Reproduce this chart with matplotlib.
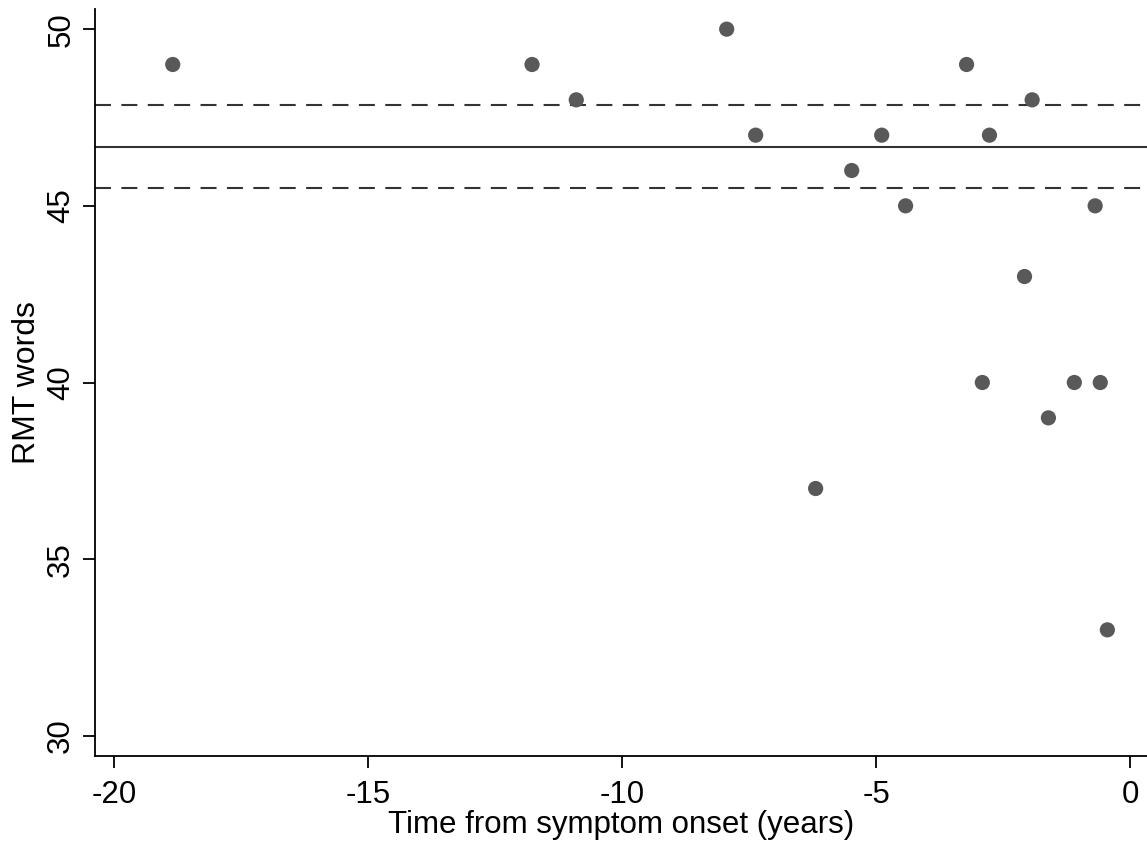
import numpy as np
import matplotlib
matplotlib.use("Agg")
import matplotlib.pyplot as plt

plt.rcParams['font.family'] = ['Liberation Sans', 'DejaVu Sans']
plt.rcParams['lines.scale_dashes'] = False
plt.rcParams['axes.unicode_minus'] = False

# Time from symptom onset (years) and RMT words score per participant
time_years = [-18.84, -11.77, -10.90, -7.94, -7.37, -6.19, -5.48, -4.89, -4.42,
              -3.22, -2.91, -2.77, -2.08, -1.93, -1.61, -1.10, -0.69, -0.59, -0.45]
rmt_words = [49, 49, 48, 50, 47, 37, 46, 47, 45,
             49, 40, 47, 43, 48, 39, 40, 45, 40, 33]

# Reference mean and its limits (horizontal lines)
mean_value = 46.67
upper_limit = 47.86
lower_limit = 45.51

x_ticks = [-20, -15, -10, -5, 0]
y_ticks = [30, 35, 40, 45, 50]

fig = plt.figure(figsize=(11.47, 8.43), dpi=100)
ax = fig.add_axes([0.0828, 0.1032, 0.9172, 0.8861])

line_color = '#333333'
ax.axhline(mean_value, color=line_color, lw=1.5, zorder=1)
ax.axhline(upper_limit, color=line_color, lw=1.5, dashes=(11.5, 7.5), zorder=1)
ax.axhline(lower_limit, color=line_color, lw=1.5, dashes=(11.5, 7.5), zorder=1)

ax.scatter(time_years, rmt_words, s=120, color='#595959', edgecolors='none', zorder=3)

ax.set_xlim(-20.37, 0.33)
ax.set_ylim(29.43, 50.57)
ax.set_xticks(x_ticks)
ax.set_yticks(y_ticks)
ax.set_yticklabels([str(t) for t in y_ticks], rotation=90, va='center')

for side in ['top', 'right']:
    ax.spines[side].set_visible(False)
for side in ['left', 'bottom']:
    ax.spines[side].set_linewidth(1.3)
    ax.spines[side].set_color('black')

ax.tick_params(axis='both', direction='out', length=8.5, width=1.3, labelsize=22.5)
ax.tick_params(axis='x', pad=8.5)
ax.tick_params(axis='y', pad=5)
ax.set_xlabel('Time from symptom onset (years)', fontsize=22.5, labelpad=0)
ax.set_ylabel('RMT words', fontsize=23, labelpad=3)

fig.savefig('out.png', dpi=100)
